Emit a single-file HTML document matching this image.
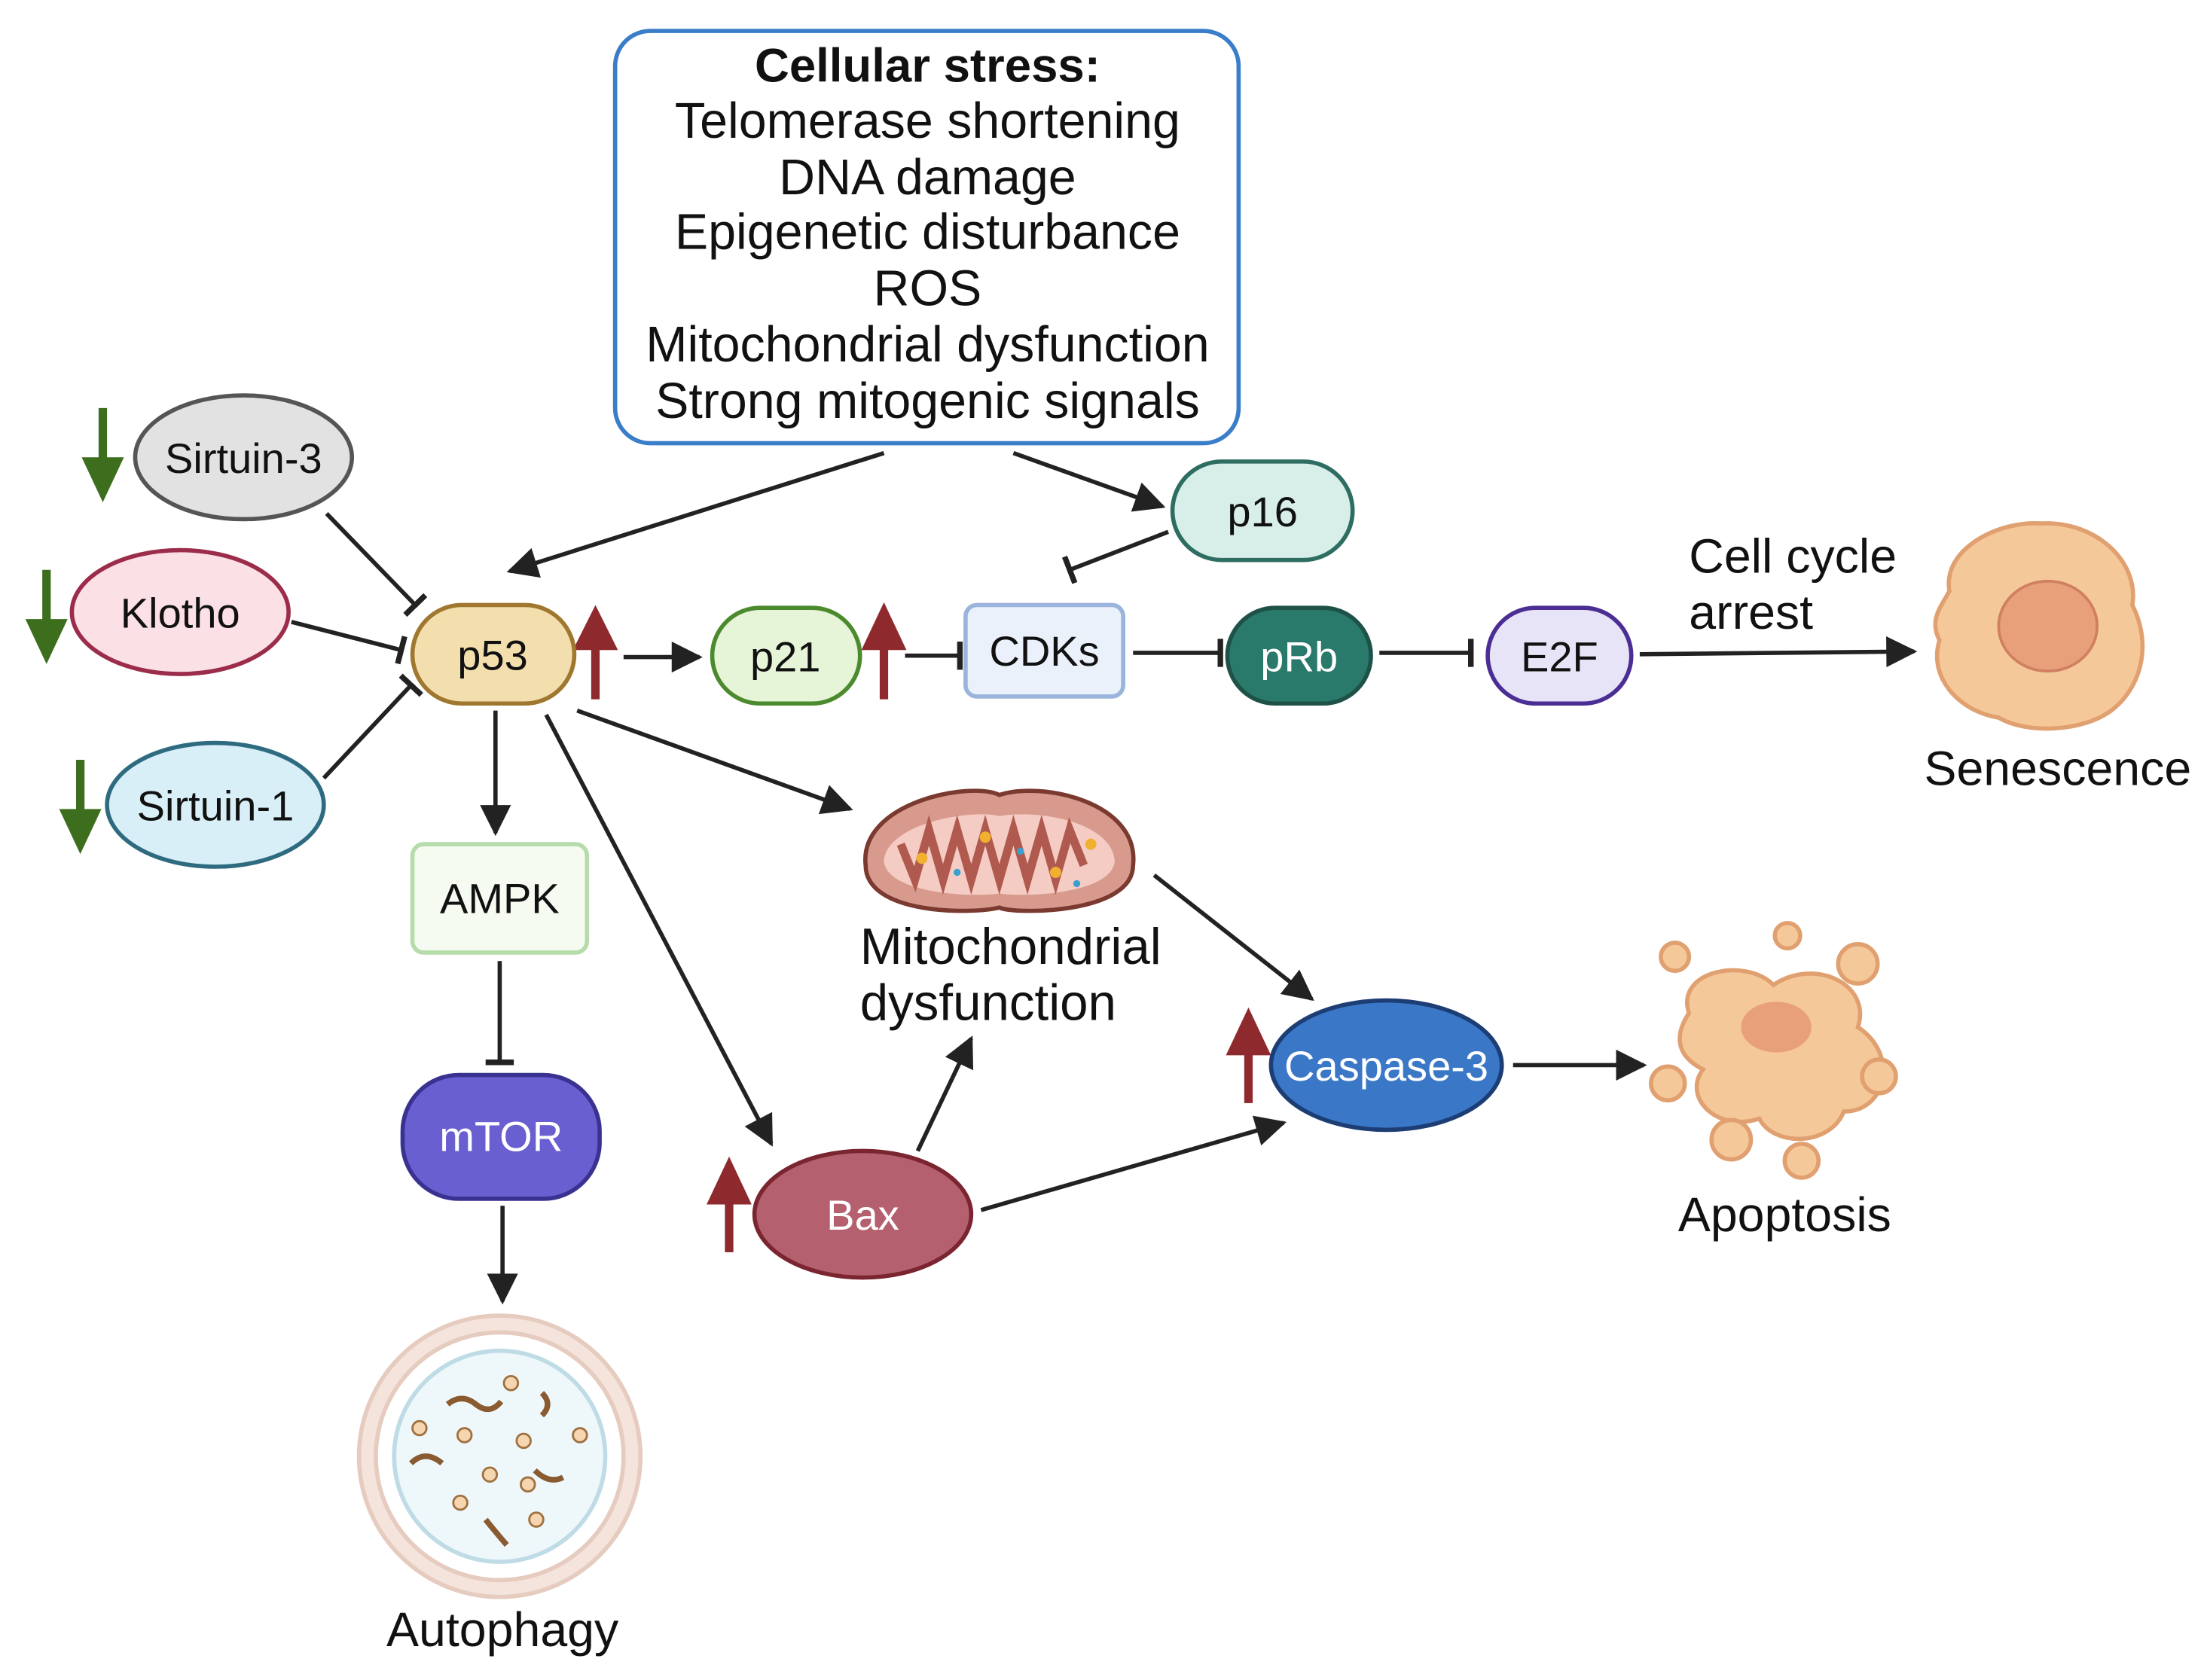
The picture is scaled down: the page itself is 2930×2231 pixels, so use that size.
<!DOCTYPE html>
<html><head><meta charset="utf-8"><style>
html,body{margin:0;padding:0;background:#fff}
svg{display:block}
text{font-family:"Liberation Sans",sans-serif;fill:#111}
</style></head><body>
<svg width="2930" height="2231" viewBox="0 0 1568 1194" xmlns="http://www.w3.org/2000/svg">
<defs>
<marker id="ah" viewBox="0 0 10 10" refX="9" refY="5" markerWidth="24" markerHeight="22" orient="auto" markerUnits="userSpaceOnUse">
<path d="M0,0 L10,5 L0,10 z" fill="#222"/></marker>
<marker id="t" viewBox="0 0 4 20" refX="2" refY="10" markerWidth="4" markerHeight="22" orient="auto" markerUnits="userSpaceOnUse">
<rect x="0" y="0" width="4" height="20" fill="#222"/></marker>
</defs>

<rect x="437" y="22" width="443" height="293" rx="25" fill="#fff" stroke="#3a7dc9" stroke-width="3"/>
<g font-size="35.5" text-anchor="middle">
<text x="659" y="58" font-weight="bold" font-size="34">Cellular stress:</text>
<text x="659" y="98">Telomerase shortening</text>
<text x="659" y="138">DNA damage</text>
<text x="659" y="177">Epigenetic disturbance</text>
<text x="659" y="217">ROS</text>
<text x="659" y="257">Mitochondrial dysfunction</text>
<text x="659" y="297">Strong mitogenic signals</text>
</g>

<g stroke="#222" stroke-width="3" fill="none">
<line x1="628" y1="322" x2="362" y2="406" marker-end="url(#ah)"/>
<line x1="720" y1="322" x2="826" y2="360" marker-end="url(#ah)"/>
<line x1="830" y1="378" x2="760" y2="405" marker-end="url(#t)"/>
<line x1="232" y1="365" x2="295" y2="430" marker-end="url(#t)"/>
<line x1="207" y1="442" x2="285" y2="462" marker-end="url(#t)"/>
<line x1="230" y1="553" x2="292" y2="487" marker-end="url(#t)"/>
<line x1="443" y1="467" x2="497" y2="467" marker-end="url(#ah)"/>
<line x1="643" y1="466" x2="682" y2="466" marker-end="url(#t)"/>
<line x1="805" y1="464" x2="867" y2="464" marker-end="url(#t)"/>
<line x1="980" y1="464" x2="1045" y2="464" marker-end="url(#t)"/>
<line x1="1165" y1="465" x2="1360" y2="463" marker-end="url(#ah)"/>
<line x1="352" y1="505" x2="352" y2="592" marker-end="url(#ah)"/>
<line x1="355" y1="683" x2="355" y2="755" marker-end="url(#t)"/>
<line x1="357" y1="857" x2="357" y2="925" marker-end="url(#ah)"/>
<line x1="410" y1="505" x2="604" y2="575" marker-end="url(#ah)"/>
<line x1="388" y1="508" x2="548" y2="813" marker-end="url(#ah)"/>
<line x1="652" y1="818" x2="690" y2="738" marker-end="url(#ah)"/>
<line x1="820" y1="622" x2="932" y2="710" marker-end="url(#ah)"/>
<line x1="697" y1="860" x2="912" y2="798" marker-end="url(#ah)"/>
<line x1="1075" y1="757" x2="1168" y2="757" marker-end="url(#ah)"/>
</g>

<g fill="#3d6e1e">
<rect x="70" y="290" width="6" height="40"/><path d="M58,325 L88,325 L73,357 z"/>
<rect x="30" y="405" width="6" height="40"/><path d="M18,440 L48,440 L33,472 z"/>
<rect x="54" y="540" width="6" height="40"/><path d="M42,575 L72,575 L57,607 z"/>
</g>
<g fill="#8e2a2e">
<rect x="420" y="455" width="6" height="42"/><path d="M407,462 L439,462 L423,430 z"/>
<rect x="625" y="455" width="6" height="42"/><path d="M612,462 L644,462 L628,428 z"/>
<rect x="884" y="742" width="6" height="42"/><path d="M871,750 L903,750 L887,716 z"/>
<rect x="515" y="848" width="6" height="42"/><path d="M502,856 L534,856 L518,822 z"/>
</g>

<g font-size="30" text-anchor="middle">
<ellipse cx="173" cy="325" rx="77" ry="44" fill="#e2e2e2" stroke="#555" stroke-width="3"/>
<text x="173" y="336">Sirtuin-3</text>
<ellipse cx="128" cy="435" rx="77" ry="44" fill="#fbe0e6" stroke="#9b2c4a" stroke-width="3"/>
<text x="128" y="446">Klotho</text>
<ellipse cx="153" cy="572" rx="77" ry="44" fill="#d8eff7" stroke="#2f6b80" stroke-width="3"/>
<text x="153" y="583">Sirtuin-1</text>

<rect x="293" y="430" width="115" height="70" rx="35" fill="#f3dfae" stroke="#a0772f" stroke-width="3"/>
<text x="350" y="476">p53</text>
<rect x="506" y="432" width="105" height="68" rx="34" fill="#e6f4d8" stroke="#4c8a2e" stroke-width="3"/>
<text x="558" y="477">p21</text>
<rect x="686" y="430" width="112" height="65" rx="8" fill="#eaf1fb" stroke="#9ab4dc" stroke-width="3"/>
<text x="742" y="473">CDKs</text>
<rect x="872" y="432" width="102" height="68" rx="34" fill="#2a7a6c" stroke="#1e5248" stroke-width="3"/>
<text x="923" y="477" style="fill:#fff">pRb</text>
<rect x="1057" y="432" width="102" height="68" rx="34" fill="#e8e4f7" stroke="#4b2e94" stroke-width="3"/>
<text x="1108" y="477">E2F</text>
<rect x="833" y="328" width="128" height="70" rx="35" fill="#d8eee9" stroke="#2e6d62" stroke-width="3"/>
<text x="897" y="374">p16</text>
<rect x="293" y="600" width="124" height="77" rx="8" fill="#f6fbf2" stroke="#b5dcaa" stroke-width="3"/>
<text x="355" y="649">AMPK</text>
<rect x="286" y="764" width="140" height="88" rx="40" fill="#6a5fd0" stroke="#3a3290" stroke-width="3"/>
<text x="356" y="818" style="fill:#fff">mTOR</text>
<ellipse cx="613" cy="863" rx="77" ry="45" fill="#b5606e" stroke="#7a2530" stroke-width="3"/>
<text x="613" y="874" style="fill:#fff">Bax</text>
<ellipse cx="985" cy="757" rx="82" ry="46" fill="#3a78c7" stroke="#1d3d75" stroke-width="3"/>
<text x="985" y="768" style="fill:#fff">Caspase-3</text>
</g>

<g>
<path d="M615,615 C610,570 690,555 710,565 C740,555 810,570 805,615 C805,650 720,650 710,645 C690,650 615,650 615,615 z" fill="#d99a8e" stroke="#7a3a30" stroke-width="3"/>
<path d="M628,612 C630,585 690,575 710,580 C740,575 790,585 792,612 C790,635 730,638 710,635 C690,638 630,635 628,612 z" fill="#f4ccc4"/>
<path d="M640,600 l10,25 l10,-35 l10,35 l10,-35 l10,35 l10,-35 l10,35 l10,-35 l10,35 l10,-35 l10,35 l10,-35 l10,25" stroke="#b05a4f" stroke-width="6" fill="none"/>
<circle cx="655" cy="610" r="4" fill="#f0b030"/><circle cx="700" cy="595" r="4" fill="#f0b030"/><circle cx="750" cy="620" r="4" fill="#f0b030"/><circle cx="775" cy="600" r="4" fill="#f0b030"/>
<circle cx="680" cy="620" r="2.5" fill="#3aa0d0"/><circle cx="725" cy="605" r="2.5" fill="#3aa0d0"/><circle cx="765" cy="628" r="2.5" fill="#3aa0d0"/>
</g>
<text x="611" y="685" font-size="36">Mitochondrial</text>
<text x="611" y="725" font-size="36">dysfunction</text>

<path d="M1385,420 C1380,390 1420,370 1450,372 C1490,370 1520,400 1515,430 C1530,460 1520,490 1500,505 C1480,520 1440,522 1420,510 C1390,505 1370,480 1378,455 C1370,440 1380,430 1385,420 z" fill="#f5c89a" stroke="#e0a070" stroke-width="3"/>
<ellipse cx="1455" cy="445" rx="35" ry="32" fill="#e8a07a" stroke="#d08060" stroke-width="2"/>
<text x="1200" y="407" font-size="34.5">Cell cycle</text>
<text x="1200" y="447" font-size="34.5">arrest</text>
<text x="1462" y="558" font-size="34.5" text-anchor="middle">Senescence</text>

<g fill="#f5c89a" stroke="#e0a070" stroke-width="3">
<path d="M1200,720 C1190,690 1240,680 1260,700 C1290,680 1330,700 1320,730 C1350,750 1340,790 1310,790 C1300,815 1260,815 1250,795 C1220,805 1195,780 1210,760 C1190,750 1190,735 1200,720 z"/>
<circle cx="1190" cy="680" r="10"/><circle cx="1230" cy="810" r="14"/><circle cx="1280" cy="825" r="12"/><circle cx="1335" cy="765" r="12"/><circle cx="1185" cy="770" r="12"/><circle cx="1320" cy="685" r="14"/><circle cx="1270" cy="665" r="9"/>
</g>
<ellipse cx="1262" cy="730" rx="25" ry="18" fill="#e8a07a"/>
<text x="1268" y="875" font-size="34.5" text-anchor="middle">Apoptosis</text>

<circle cx="355" cy="1035" r="100" fill="#f4e4dc" stroke="#e6cbbf" stroke-width="3"/>
<circle cx="355" cy="1035" r="88" fill="#fff" stroke="#e6cbbf" stroke-width="3"/>
<circle cx="355" cy="1035" r="75" fill="#eef8fb" stroke="#bfdbe6" stroke-width="3"/>
<g stroke="#8a5a30" stroke-width="4" fill="none">
<path d="M318,998 q10,-8 20,0 t18,-2"/><path d="M385,990 q8,8 0,16"/><path d="M292,1040 q10,-10 22,0"/><path d="M380,1045 q10,10 20,5"/><path d="M345,1080 q8,10 15,18"/>
</g>
<g fill="#f5d6b0" stroke="#a07040" stroke-width="1.5">
<circle cx="363" cy="983" r="5"/><circle cx="330" cy="1020" r="5"/><circle cx="372" cy="1024" r="5"/><circle cx="412" cy="1020" r="5"/><circle cx="298" cy="1015" r="5"/><circle cx="348" cy="1048" r="5"/><circle cx="375" cy="1055" r="5"/><circle cx="327" cy="1068" r="5"/><circle cx="381" cy="1080" r="5"/>
</g>
<text x="357" y="1170" font-size="34.5" text-anchor="middle">Autophagy</text>
</svg>
</body></html>
